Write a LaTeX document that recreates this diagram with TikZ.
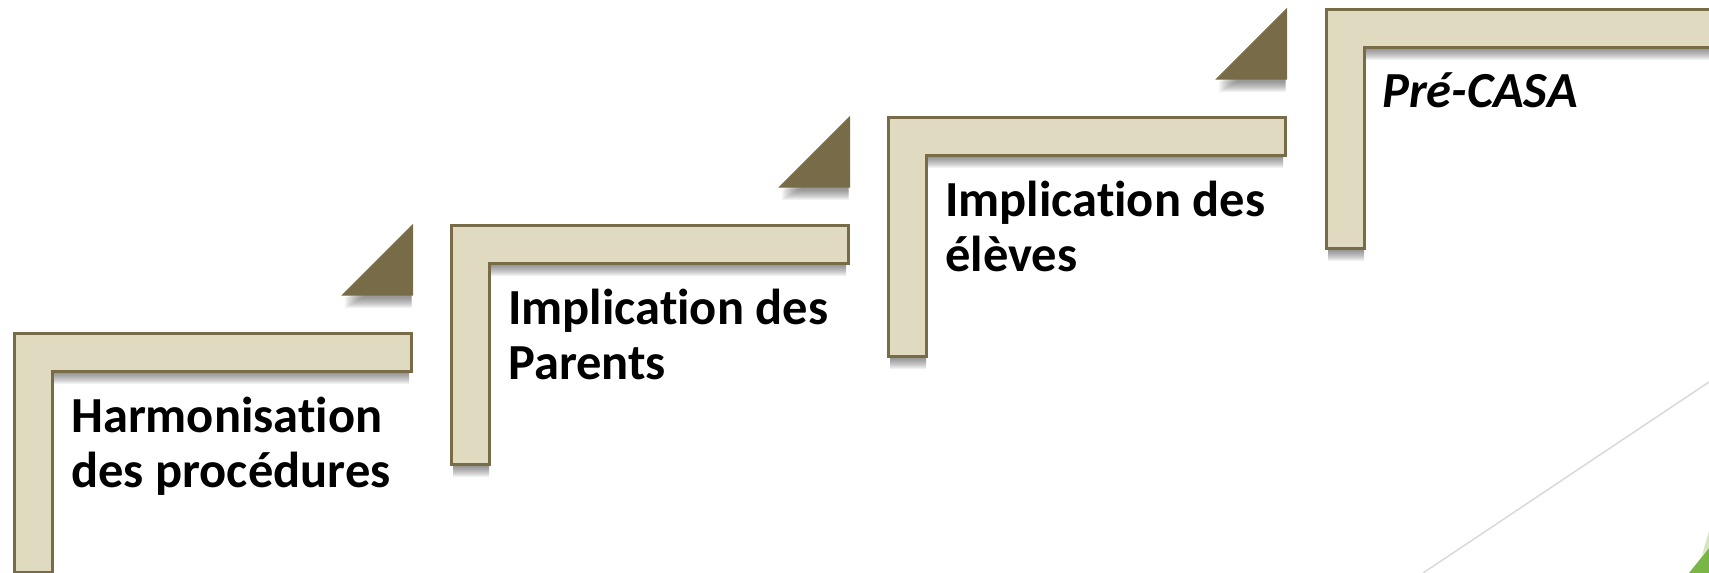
\documentclass[tikz,border=0pt]{standalone}
\usepackage{fontspec}
\setmainfont[Ligatures=NoCommon]{Carlito}
\definecolor{stepfill}{HTML}{E0DAC0}
\definecolor{stepedge}{HTML}{786C48}
\definecolor{shade}{HTML}{404040}
\definecolor{lightgreen}{HTML}{D6E7BC}
\definecolor{darkgreen}{HTML}{7AB548}
\definecolor{greyline}{HTML}{D9D9D9}
\tikzset{
  stepshape/.style={fill=stepfill,draw=stepedge,line width=3pt,line join=miter},
  triangleshape/.style={fill=stepedge,draw=stepedge,line width=1pt,line join=miter},
  steplabel/.style={anchor=base west,align=left,inner sep=0pt,font=\fontsize{50.5}{55}\selectfont\bfseries,text=black},
  softshade/.style={fill=shade,draw=none,fill opacity=0.065},
}
\newcommand{\softshadow}[1]{%
  \foreach \d in {13,12,11,10,9,8,7,6,5,4,3}{%
    \fill[softshade,shift={(0,\d)}] #1;
  }}
\newcommand{\stepL}[2]{%
  \begin{scope}[shift={(#1,#2)}]
    \softshadow{(2,2) -- (395,2) -- (395,38) -- (38,38) -- (38,239) -- (2,239) -- cycle}
    \draw[stepshape] (0,0) -- (397,0) -- (397,38) -- (38,38) -- (38,239) -- (0,239) -- cycle;
  \end{scope}}
\newcommand{\stepT}[2]{%
  \begin{scope}[shift={(#1,#2)}]
    \softshadow{(-1,30) -- (-1,70) -- (-68,70) -- cycle}
    \draw[triangleshape] (0,0) -- (0,70) -- (-70,70) -- cycle;
  \end{scope}}
\begin{document}
\begin{tikzpicture}[x=1pt,y=-1pt]
\useasboundingbox (0,0) rectangle (1709,573);
\coordinate (lineA) at (1423,573);
\coordinate (lineB) at (1709,382);
\draw[color=greyline,line width=1.5pt] (lineA) -- (lineB);
\fill[lightgreen] (1702,555) -- (1709,531) -- (1709,548) -- cycle;
\fill[darkgreen] (1689,573) -- (1709,548) -- (1709,573) -- cycle;
\stepL{14}{333}
\stepL{451}{225}
\stepL{888}{117}
\stepL{1326}{9}
\stepT{412.5}{225}
\stepT{849.5}{117}
\stepT{1286.5}{9}
\node[steplabel] (t1) at (71,487) {Harmonisation\\des procédures};
\node[steplabel] (t2) at (508,379) {Implication des\\Parents};
\node[steplabel] (t3) at (945,271) {Implication des\\élèves};
\node[steplabel,font=\fontsize{50.5}{55}\selectfont\bfseries\itshape] (t4) at (1382,107) {Pré-CASA};
\end{tikzpicture}
\end{document}
